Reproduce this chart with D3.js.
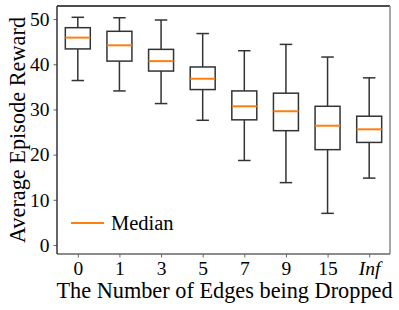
<!DOCTYPE html>
<html>
<head>
<meta charset="utf-8">
<script src="https://cdn.jsdelivr.net/npm/d3@7"></script>
<style>
  body { margin: 0; background: #fff; }
  svg text { font-family: "Liberation Serif", "Times New Roman", serif; fill: #000; }
</style>
</head>
<body>
<div id="chart"></div>
<script>
// categories on the x axis
var edges = ["0", "1", "3", "5", "7", "9", "15", "Inf"]
// box stats
var whiskerLow = [36.4, 34.1, 31.3, 27.6, 18.7, 13.8, 7.0, 14.8]
var q1 =         [43.4, 40.7, 38.5, 34.4, 27.7, 25.3, 21.1, 22.7]
var median =     [45.9, 44.2, 40.7, 36.8, 30.7, 29.6, 26.4, 25.6]
var q3 =         [48.1, 47.3, 43.3, 39.4, 34.1, 33.6, 30.7, 28.5]
var whiskerHigh = [50.4, 50.3, 49.8, 46.8, 43.0, 44.4, 41.6, 37.0]
var yTicks = [0, 10, 20, 30, 40, 50]

var width = 399, height = 310
var margin = {left: 57, right: 9, top: 6, bottom: 56}
var innerW = width - margin.left - margin.right
var innerH = height - margin.top - margin.bottom

var svg = d3.select("#chart").append("svg")
  .attr("width", width)
  .attr("height", height)

var g = svg.append("g").attr("transform", "translate(" + margin.left + "," + margin.top + ")")

var x = d3.scaleLinear().domain([0.5, edges.length + 0.5]).range([0, innerW])
var y = d3.scaleLinear().domain([-2, 52.9]).range([innerH, 0])

var boxes = edges.map(function(e, i){
  return {pos: i + 1, lo: whiskerLow[i], q1: q1[i], med: median[i], q3: q3[i], hi: whiskerHigh[i]}
})

var boxW = x(0.6) - x(0)
var capW = boxW / 2
var edgeCol = "#333"

var bg = g.selectAll(".box").data(boxes).enter().append("g").attr("class", "box")

// whiskers
bg.append("line")
  .attr("x1", function(d){ return x(d.pos) }).attr("x2", function(d){ return x(d.pos) })
  .attr("y1", function(d){ return y(d.hi) }).attr("y2", function(d){ return y(d.q3) })
  .attr("stroke", edgeCol).attr("stroke-width", 1.5)
bg.append("line")
  .attr("x1", function(d){ return x(d.pos) }).attr("x2", function(d){ return x(d.pos) })
  .attr("y1", function(d){ return y(d.q1) }).attr("y2", function(d){ return y(d.lo) })
  .attr("stroke", edgeCol).attr("stroke-width", 1.5)
// caps
bg.append("line")
  .attr("x1", function(d){ return x(d.pos) - capW / 2 }).attr("x2", function(d){ return x(d.pos) + capW / 2 })
  .attr("y1", function(d){ return y(d.hi) }).attr("y2", function(d){ return y(d.hi) })
  .attr("stroke", edgeCol).attr("stroke-width", 1.5)
bg.append("line")
  .attr("x1", function(d){ return x(d.pos) - capW / 2 }).attr("x2", function(d){ return x(d.pos) + capW / 2 })
  .attr("y1", function(d){ return y(d.lo) }).attr("y2", function(d){ return y(d.lo) })
  .attr("stroke", edgeCol).attr("stroke-width", 1.5)
// box
bg.append("rect")
  .attr("x", function(d){ return x(d.pos) - boxW / 2 })
  .attr("width", boxW)
  .attr("y", function(d){ return y(d.q3) })
  .attr("height", function(d){ return y(d.q1) - y(d.q3) })
  .attr("fill", "none").attr("stroke", edgeCol).attr("stroke-width", 1.5)
// median
bg.append("line")
  .attr("x1", function(d){ return x(d.pos) - boxW / 2 }).attr("x2", function(d){ return x(d.pos) + boxW / 2 })
  .attr("y1", function(d){ return y(d.med) }).attr("y2", function(d){ return y(d.med) })
  .attr("stroke", "#ff7f0e").attr("stroke-width", 2)

// axes
var xAxis = d3.axisBottom(x).tickValues(d3.range(1, edges.length + 1))
  .tickFormat(function(d, i){ return edges[i] }).tickSize(3.5).tickPadding(4)
var xg = g.append("g").attr("transform", "translate(0," + innerH + ")").call(xAxis)
xg.select(".domain").remove()
xg.selectAll(".tick line").attr("stroke", "#666")
xg.selectAll(".tick text").attr("font-size", 19.5)
  .style("font-style", function(d, i){ return edges[i] == "Inf" ? "italic" : "normal" })

var yAxis = d3.axisLeft(y).tickValues(yTicks).tickSize(3.5).tickPadding(4)
var yg = g.append("g").call(yAxis)
yg.select(".domain").remove()
yg.selectAll(".tick line").attr("stroke", "#666")
yg.selectAll(".tick text").attr("font-size", 19.5)

// spines
g.append("line").attr("x1", 0).attr("x2", innerW).attr("y1", 0).attr("y2", 0).attr("stroke", "#111").attr("stroke-width", 1.5)
g.append("line").attr("x1", innerW).attr("x2", innerW).attr("y1", 0).attr("y2", innerH).attr("stroke", "#888").attr("stroke-width", 1.5)
g.append("line").attr("x1", 0).attr("x2", innerW).attr("y1", innerH).attr("y2", innerH).attr("stroke", "#666").attr("stroke-width", 1.5)
g.append("line").attr("x1", 0).attr("x2", 0).attr("y1", 0).attr("y2", innerH).attr("stroke", "#333").attr("stroke-width", 1.5)

// labels
svg.append("text")
  .attr("x", margin.left + innerW / 2 + 1).attr("y", 298)
  .attr("text-anchor", "middle").attr("font-size", 22.3)
  .text("The Number of Edges being Dropped")
svg.append("text")
  .attr("transform", "translate(25," + (margin.top + innerH / 2) + ") rotate(-90)")
  .attr("text-anchor", "middle").attr("font-size", 22.3)
  .text("Average Episode Reward")

// legend
var lg = g.append("g").attr("transform", "translate(14," + (223 - margin.top) + ")")
lg.append("line").attr("x1", 0).attr("x2", 33).attr("y1", 0).attr("y2", 0)
  .attr("stroke", "#ff7f0e").attr("stroke-width", 2)
lg.append("text").attr("x", 40).attr("y", 0).attr("dy", "0.35em")
  .attr("font-size", 20.5).text("Median")
</script>
</body>
</html>
